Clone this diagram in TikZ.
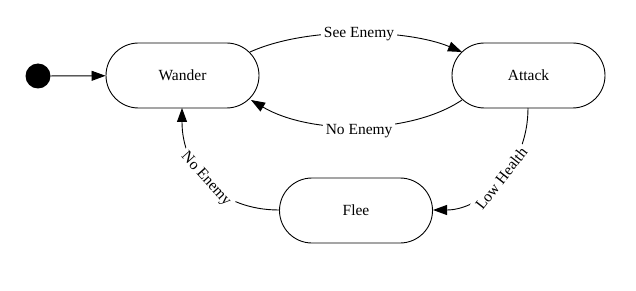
\documentclass[tikz,border=0pt]{standalone}
\usepackage{fontspec}
\setmainfont{Liberation Serif}
\usetikzlibrary{arrows.meta}
\begin{document}
\begin{tikzpicture}[x=1pt,y=-1pt,
  state/.style={draw,line width=0.9pt,rounded corners=32.5pt,minimum width=153pt,minimum height=65pt,font=\fontsize{15.5}{18}\selectfont},
  lbl/.style={fill=white,inner sep=3pt,font=\fontsize{15.5}{18}\selectfont},
  edge/.style={line width=0.9pt,-{Triangle[length=14pt,width=10pt]}}]
\useasboundingbox (0,0) rectangle (636,291);
\node[circle,fill=black,minimum size=25pt,inner sep=0pt] (init) at (38,76) {};
\node[state] (wander) at (182.5,75.5) {Wander};
\node[state] (attack) at (528.5,75.5) {Attack};
\node[state] (flee) at (356,210.5) {Flee};
\coordinate (wne) at (250,52);
\coordinate (wse) at (251,100);
\coordinate (ws) at (182,108);
\coordinate (anw) at (462,52);
\coordinate (asw) at (462,100);
\coordinate (as) at (528,108);
\coordinate (fe) at (433,210);
\coordinate (fw) at (279,210);
\draw[edge] (init) -- (wander);
\draw[edge] (wne) .. controls (310,25) and (410,30) .. node[lbl] {See Enemy} (anw);
\draw[edge] (asw) .. controls (410,135) and (310,135) .. node[lbl,pos=0.5,yshift=-5pt] {No Enemy} (wse);
\draw[edge] (as) .. controls (528,170) and (480,210) .. node[lbl,rotate=52,xshift=5pt] {Low Health} (fe);
\draw[edge] (fw) .. controls (220,210) and (182,170) .. node[lbl,rotate=-48,xshift=-4pt] {No Enemy} (ws);
\end{tikzpicture}
\end{document}
